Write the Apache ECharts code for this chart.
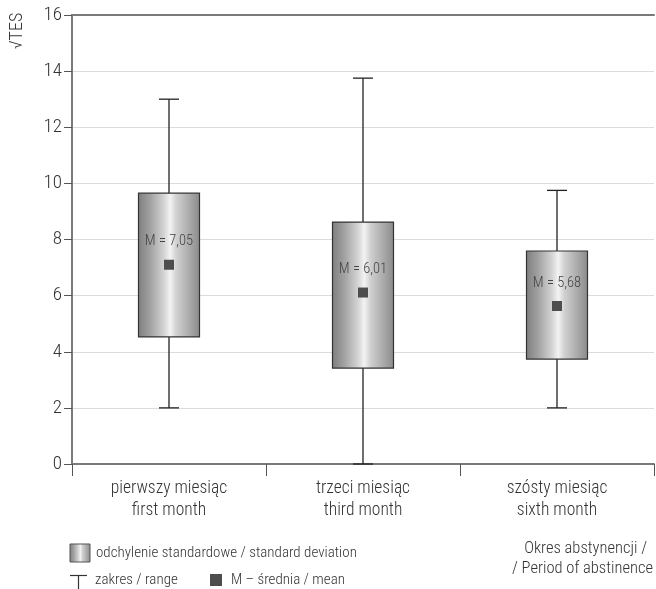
<!DOCTYPE html>
<html>
<head>
<meta charset="utf-8">
<script src="https://cdn.jsdelivr.net/npm/echarts@6/dist/echarts.min.js"></script>
<style>
html,body{margin:0;padding:0;background:#fff;}
#chart{width:656px;height:589px;}
</style>
</head>
<body>
<div id="chart"></div>
<script>
var categories = ['pierwszy miesiąc\nfirst month', 'trzeci miesiąc\nthird month', 'szósty miesiąc\nsixth month'];
var sdLow = [4.53, 3.42, 3.74];
var sdHigh = [9.65, 8.62, 7.59];
var rangeMin = [2, 0, 2];
var rangeMax = [13, 13.75, 9.75];
var means = [7.1, 6.11, 5.63];
var meanLabels = ['M = 7,05', 'M = 6,01', 'M = 5,68'];
var yTicks = [0, 2, 4, 6, 8, 10, 12, 14, 16];

var FONT = "'Roboto Condensed', 'DejaVu Sans Condensed', sans-serif";
var W = 300;

function boxGradient() {
  return new echarts.graphic.LinearGradient(0, 0, 1, 0, [
    {offset: 0, color: '#7e7e7e'},
    {offset: 0.2, color: '#a2a2a2'},
    {offset: 0.42, color: '#d4d4d4'},
    {offset: 0.52, color: '#f3f3f3'},
    {offset: 0.62, color: '#d0d0d0'},
    {offset: 0.85, color: '#a6a6a6'},
    {offset: 1, color: '#8a8a8a'}
  ]);
}

var data = categories.map(function (c, i) {
  return [i, sdLow[i], sdHigh[i], rangeMin[i], rangeMax[i], means[i]];
});

var chart = echarts.init(document.getElementById('chart'));
chart.setOption({
  animation: false,
  backgroundColor: '#fff',
  grid: {left: 72, right: 2, top: 15, bottom: 125},
  xAxis: [{
    type: 'category',
    data: categories,
    boundaryGap: true,
    axisLine: {show: true, lineStyle: {color: '#7a7a7a', width: 2}},
    axisTick: {show: true, length: 12, lineStyle: {color: '#555'}},
    axisLabel: {fontFamily: FONT, fontWeight: W, fontSize: 17.5, color: '#333', lineHeight: 22, margin: 14}
  }, {
    type: 'category',
    data: categories,
    position: 'top',
    axisLine: {show: true, lineStyle: {color: '#7a7a7a', width: 2}},
    axisTick: {show: false},
    axisLabel: {show: false}
  }],
  yAxis: {
    type: 'value',
    min: yTicks[0],
    max: yTicks[yTicks.length - 1],
    interval: 2,
    axisLine: {show: true, lineStyle: {color: '#7a7a7a', width: 2}},
    axisTick: {show: true, length: 8, lineStyle: {color: '#555'}},
    axisLabel: {fontFamily: FONT, fontWeight: W, fontSize: 19, color: '#333', margin: 10},
    splitLine: {show: true, lineStyle: {color: '#dcdcdc', width: 1}}
  },
  series: [{
    type: 'custom',
    data: data,
    renderItem: function (params, api) {
      var idx = api.value(0);
      var pLow = api.coord([idx, api.value(1)]);
      var pHigh = api.coord([idx, api.value(2)]);
      var pMin = api.coord([idx, api.value(3)]);
      var pMax = api.coord([idx, api.value(4)]);
      var pMean = api.coord([idx, api.value(5)]);
      var x = pLow[0];
      var bw = 61, cap = 10, sq = 10;
      return {
        type: 'group',
        children: [
          {type: 'line', shape: {x1: x, y1: pMin[1], x2: x, y2: pMax[1]}, style: {stroke: '#222', lineWidth: 1.3}},
          {type: 'line', shape: {x1: x - cap, y1: pMax[1], x2: x + cap, y2: pMax[1]}, style: {stroke: '#222', lineWidth: 1.3}},
          {type: 'line', shape: {x1: x - cap, y1: pMin[1], x2: x + cap, y2: pMin[1]}, style: {stroke: '#222', lineWidth: 1.3}},
          {type: 'rect', shape: {x: x - bw / 2, y: pHigh[1], width: bw, height: pLow[1] - pHigh[1]},
            style: {fill: boxGradient(), stroke: '#333', lineWidth: 1.2}},
          {type: 'rect', shape: {x: x - sq / 2, y: pMean[1] - sq / 2, width: sq, height: sq},
            style: {fill: '#4d4d4d'}},
          {type: 'text', x: x, y: pMean[1] - 23,
            style: {text: meanLabels[params.dataIndex], fontFamily: FONT, fontWeight: W, fontSize: 14.5, fill: '#444',
              align: 'center', verticalAlign: 'middle'}}
        ]
      };
    }
  }],
  graphic: [
    {type: 'text', x: 17, y: 31, rotation: Math.PI / 2,
      style: {text: '√TES', fontFamily: FONT, fontWeight: W, fontSize: 18, fill: '#333', align: 'center', verticalAlign: 'middle'}},
    {type: 'rect', shape: {x: 70, y: 544, width: 20, height: 18},
      style: {fill: boxGradient(), stroke: '#555', lineWidth: 1}},
    {type: 'text', x: 96, y: 553,
      style: {text: 'odchylenie standardowe / standard deviation', fontFamily: FONT, fontWeight: W, fontSize: 15, fill: '#333', verticalAlign: 'middle'}},
    {type: 'line', shape: {x1: 70, y1: 575.5, x2: 87, y2: 575.5}, style: {stroke: '#333', lineWidth: 1.2}},
    {type: 'line', shape: {x1: 78.5, y1: 575.5, x2: 78.5, y2: 589}, style: {stroke: '#333', lineWidth: 1.2}},
    {type: 'text', x: 95, y: 580,
      style: {text: 'zakres / range', fontFamily: FONT, fontWeight: W, fontSize: 15, fill: '#333', verticalAlign: 'middle'}},
    {type: 'rect', shape: {x: 210, y: 574, width: 12, height: 12}, style: {fill: '#4d4d4d'}},
    {type: 'text', x: 231, y: 580,
      style: {text: 'M – średnia / mean', fontFamily: FONT, fontWeight: W, fontSize: 15, fill: '#333', verticalAlign: 'middle'}},
    {type: 'text', x: 647, y: 549,
      style: {text: 'Okres abstynencji /', fontFamily: FONT, fontWeight: W, fontSize: 16.5, fill: '#333', align: 'right', verticalAlign: 'middle'}},
    {type: 'text', x: 653, y: 569,
      style: {text: '/ Period of abstinence', fontFamily: FONT, fontWeight: W, fontSize: 16.5, fill: '#333', align: 'right', verticalAlign: 'middle'}}
  ]
});
</script>
</body>
</html>
